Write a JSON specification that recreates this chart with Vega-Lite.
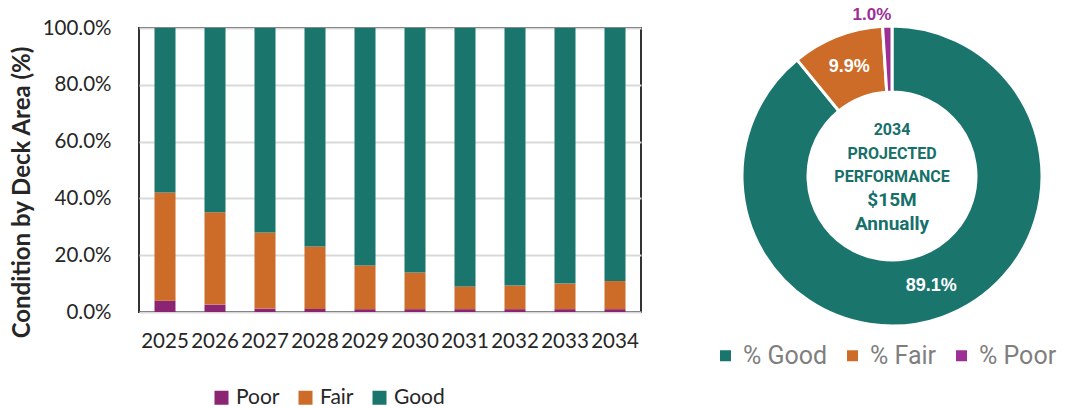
{
  "$schema": "https://vega.github.io/schema/vega-lite/v6.json",
  "background": "white",
  "padding": {"left": 9, "top": 6, "right": 5, "bottom": 0},
  "config": {"view": {"stroke": null}},
  "datasets": {
    "bars": [
      {"year": "2025", "cond": "Poor", "rank": 1, "value": 0.040},
      {"year": "2025", "cond": "Fair", "rank": 2, "value": 0.381},
      {"year": "2025", "cond": "Good", "rank": 3, "value": 0.579},
      {"year": "2026", "cond": "Poor", "rank": 1, "value": 0.026},
      {"year": "2026", "cond": "Fair", "rank": 2, "value": 0.325},
      {"year": "2026", "cond": "Good", "rank": 3, "value": 0.649},
      {"year": "2027", "cond": "Poor", "rank": 1, "value": 0.012},
      {"year": "2027", "cond": "Fair", "rank": 2, "value": 0.268},
      {"year": "2027", "cond": "Good", "rank": 3, "value": 0.720},
      {"year": "2028", "cond": "Poor", "rank": 1, "value": 0.011},
      {"year": "2028", "cond": "Fair", "rank": 2, "value": 0.220},
      {"year": "2028", "cond": "Good", "rank": 3, "value": 0.769},
      {"year": "2029", "cond": "Poor", "rank": 1, "value": 0.010},
      {"year": "2029", "cond": "Fair", "rank": 2, "value": 0.154},
      {"year": "2029", "cond": "Good", "rank": 3, "value": 0.836},
      {"year": "2030", "cond": "Poor", "rank": 1, "value": 0.010},
      {"year": "2030", "cond": "Fair", "rank": 2, "value": 0.129},
      {"year": "2030", "cond": "Good", "rank": 3, "value": 0.861},
      {"year": "2031", "cond": "Poor", "rank": 1, "value": 0.010},
      {"year": "2031", "cond": "Fair", "rank": 2, "value": 0.080},
      {"year": "2031", "cond": "Good", "rank": 3, "value": 0.910},
      {"year": "2032", "cond": "Poor", "rank": 1, "value": 0.010},
      {"year": "2032", "cond": "Fair", "rank": 2, "value": 0.083},
      {"year": "2032", "cond": "Good", "rank": 3, "value": 0.907},
      {"year": "2033", "cond": "Poor", "rank": 1, "value": 0.010},
      {"year": "2033", "cond": "Fair", "rank": 2, "value": 0.090},
      {"year": "2033", "cond": "Good", "rank": 3, "value": 0.900},
      {"year": "2034", "cond": "Poor", "rank": 1, "value": 0.010},
      {"year": "2034", "cond": "Fair", "rank": 2, "value": 0.099},
      {"year": "2034", "cond": "Good", "rank": 3, "value": 0.891}
    ],
    "donut": [
      {"cat": "% Good", "rank": 1, "value": 0.891},
      {"cat": "% Fair", "rank": 2, "value": 0.099},
      {"cat": "% Poor", "rank": 3, "value": 0.010}
    ],
    "center": [
      {"head": "2034\nPROJECTED\nPERFORMANCE", "cost": "$15M\nAnnually"}
    ]
  },
  "spacing": 71,
  "resolve": {"scale": {"color": "independent"}, "legend": {"color": "independent"}},
  "hconcat": [
    {
      "width": 502,
      "height": 284,
      "data": {"name": "bars"},
      "view": {"stroke": "#333333", "strokeWidth": 2},
      "mark": {"type": "bar"},
      "encoding": {
        "x": {
          "field": "year", "type": "ordinal",
          "scale": {"paddingInner": 0.58, "paddingOuter": 0.31},
          "axis": {"title": null, "labelAngle": 0, "labelFont": "Lato", "labelFontSize": 20.5, "labelColor": "#262626", "ticks": false, "domain": false, "labelPadding": 19}
        },
        "y": {
          "field": "value", "type": "quantitative", "stack": "zero",
          "scale": {"domain": [0, 1]},
          "axis": {"format": ".1%", "values": [0, 0.2, 0.4, 0.6, 0.8, 1], "title": "Condition by Deck Area (%)", "titleFont": "Lato", "titleFontSize": 24, "titleFontWeight": "bold", "titleColor": "#262626", "titlePadding": 8, "titleY": 164, "labelFont": "Lato", "labelFontSize": 20.5, "labelColor": "#262626", "ticks": false, "domain": false, "labelPadding": 28, "gridColor": "#d9d9d9", "gridWidth": 2}
        },
        "color": {
          "field": "cond", "type": "nominal",
          "scale": {"domain": ["Poor", "Fair", "Good"], "range": ["#8b2473", "#cc6c28", "#1a756d"]},
          "legend": {"title": null, "orient": "none", "legendX": 72, "legendY": 359, "direction": "horizontal", "symbolType": "square", "symbolSize": 196, "symbolStrokeWidth": 0, "labelFont": "Lato", "labelFontSize": 21, "labelColor": "#262626", "labelOffset": 4, "columnPadding": 15}
        },
        "order": {"field": "rank", "type": "quantitative"}
      }
    },
    {
      "width": 300,
      "height": 296,
      "layer": [
        {
          "data": {"name": "donut"},
          "mark": {"type": "arc", "outerRadius": 150, "innerRadius": 84, "stroke": "white", "strokeWidth": 3},
          "encoding": {
            "theta": {"field": "value", "type": "quantitative", "stack": true},
            "order": {"field": "rank", "type": "quantitative"},
            "color": {
              "field": "cat", "type": "nominal",
              "scale": {"domain": ["% Good", "% Fair", "% Poor"], "range": ["#1a756d", "#cc6c28", "#9c2f95"]},
              "legend": {"title": null, "orient": "none", "legendX": -29, "legendY": 315, "direction": "horizontal", "symbolType": "square", "symbolSize": 121, "symbolStrokeWidth": 0, "labelFont": "Roboto", "labelFontSize": 25, "labelColor": "#7f7f7f", "labelOffset": 5, "columnPadding": 12}
            }
          }
        },
        {
          "data": {"name": "donut"},
          "mark": {"type": "text", "radius": 117, "font": "Liberation Sans", "fontSize": 18, "fontWeight": "bold", "fill": "white"},
          "encoding": {
            "theta": {"field": "value", "type": "quantitative", "stack": true},
            "order": {"field": "rank", "type": "quantitative"},
            "text": {"condition": {"test": "datum.cat !== '% Poor'", "field": "value", "type": "quantitative", "format": ".1%"}, "value": ""}
          }
        },
        {
          "data": {"name": "donut"},
          "mark": {"type": "text", "radius": 161, "dx": -15, "font": "Liberation Sans", "fontSize": 17, "fontWeight": "bold", "fill": "#9c2f95"},
          "encoding": {
            "theta": {"field": "value", "type": "quantitative", "stack": true},
            "order": {"field": "rank", "type": "quantitative"},
            "text": {"condition": {"test": "datum.cat === '% Poor'", "field": "value", "type": "quantitative", "format": ".1%"}, "value": ""}
          }
        },
        {
          "data": {"name": "center"},
          "mark": {"type": "text", "lineBreak": "\n", "lineHeight": 23.5, "dy": -46, "baseline": "middle", "font": "Roboto", "fontSize": 16, "fontWeight": "bold", "fill": "#17706a"},
          "encoding": {"text": {"field": "head"}}
        },
        {
          "data": {"name": "center"},
          "mark": {"type": "text", "lineBreak": "\n", "lineHeight": 24, "dy": 24, "baseline": "middle", "font": "Roboto", "fontSize": 19, "fontWeight": "bold", "fill": "#17706a"},
          "encoding": {"text": {"field": "cost"}}
        }
      ]
    }
  ]
}
